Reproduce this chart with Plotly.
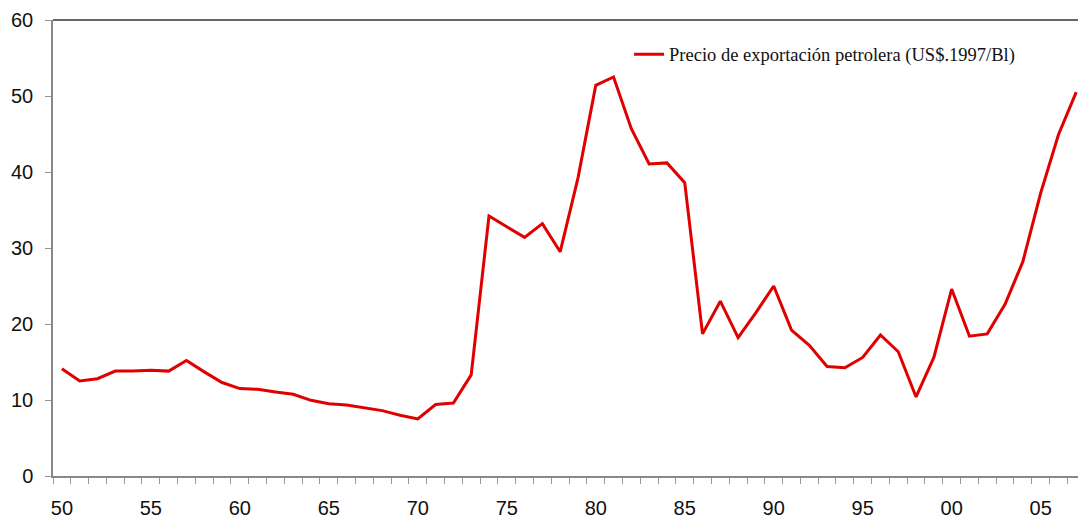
import plotly.graph_objects as go

years = list(range(1950, 2008))
precio = [14.1, 12.5, 12.8, 13.8, 13.8, 13.9, 13.8, 15.2, 13.7, 12.3,
          11.5, 11.4, 11.05, 10.75, 9.96, 9.5, 9.34, 8.95, 8.6, 8.0,
          7.5, 9.4, 9.6, 13.3, 34.2, 32.8, 31.4, 33.2, 29.5, 39.2,
          51.4, 52.5, 45.7, 41.05, 41.2, 38.6, 18.7, 23.0, 18.2, 21.5,
          25.0, 19.2, 17.2, 14.4, 14.25, 15.6, 18.55, 16.35, 10.4, 15.6,
          24.6, 18.4, 18.7, 22.6, 28.2, 37.2, 44.9, 50.5]
tick_years = [1950, 1955, 1960, 1965, 1970, 1975, 1980, 1985, 1990, 1995, 2000, 2005]
tick_labels = ["50", "55", "60", "65", "70", "75", "80", "85", "90", "95", "00", "05"]
series_name = "Precio de exportación petrolera (US$.1997/Bl)"

fig = go.Figure()
fig.add_trace(go.Scatter(x=years, y=precio, mode="lines", name=series_name,
                         line=dict(color="#E00000", width=3)))

fig.update_layout(
    width=1078, height=519,
    margin=dict(l=53, r=0, t=20, b=43),
    paper_bgcolor="white", plot_bgcolor="white",
    showlegend=True,
    legend=dict(x=0.562, y=0.924, xanchor="left", yanchor="middle",
                font=dict(family="Liberation Serif", size=18.5, color="#111"),
                bgcolor="rgba(0,0,0,0)"),
    font=dict(family="Liberation Sans", size=20, color="#111"),
)
fig.update_xaxes(range=[1949.5, 2007.1], tickvals=tick_years, ticktext=tick_labels,
                 ticks="", showgrid=False, zeroline=False, automargin=False,
                 showline=True, linecolor="#888", linewidth=1.5,
                 tickfont=dict(size=20), ticklabelstandoff=13,
                 minor=dict(tick0=1949.5, dtick=1, ticks="outside", ticklen=6,
                            tickcolor="#999", tickwidth=1, showgrid=False))
fig.update_yaxes(range=[0, 60], dtick=10, ticks="outside", ticklen=6, tickcolor="#999",
                 showgrid=False, zeroline=False, showline=True, linecolor="#888",
                 automargin=False,
                 linewidth=1.5, tickfont=dict(size=20), ticklabelstandoff=8)
fig.add_shape(type="line", xref="paper", yref="paper", x0=0, x1=1, y0=1, y1=1,
              line=dict(color="#333", width=1.5))

fig.write_html("out.html")
